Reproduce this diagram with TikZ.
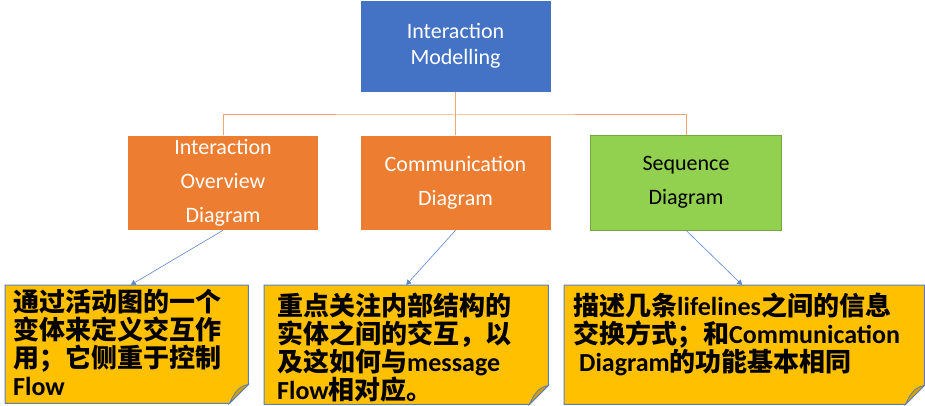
\documentclass[tikz,border=0pt]{standalone}
\usepackage{fontspec}
\setmainfont{Carlito}
\newfontfamily\cjk{Noto Sans CJK SC}
\newcommand\zh[1]{{\cjk #1}}
\usetikzlibrary{arrows.meta}
\definecolor{modelblue}{HTML}{4472C4}
\definecolor{kindorange}{HTML}{ED7D31}
\definecolor{kindgreen}{HTML}{92D050}
\definecolor{notefill}{HTML}{FFC000}
\definecolor{notefold}{HTML}{D4A000}
\definecolor{noteline}{HTML}{5E7FB6}
\definecolor{treeline}{HTML}{F4A46C}
\definecolor{linkline}{HTML}{5B86D0}
\tikzset
 {unit/.style =                       % the coloured boxes of the hierarchy
   {draw=white, line width=0.6pt, text=white, align=center,
    minimum width=191pt, minimum height=92pt, inner sep=0pt,
    font=\fontsize{22}{26}\selectfont},
  kind/.style = {minimum height=95pt, font=\fontsize{22}{34}\selectfont},
  tree/.style = {draw=treeline, line width=1pt},     % orange tree connectors
  link/.style =                        % thin blue arrows down to the notes
   {draw=linkline, line width=0.6pt, -{Triangle[width=5.5pt,length=5pt]}},
  note/.style = {inner sep=0pt, anchor=north west},  % outline drawn later
  notedge/.style = {draw=noteline, fill=notefill, line width=1pt},
  fold/.style = {draw=noteline, fill=notefold, line width=0.8pt},
  notetext/.style =
   {inner sep=0pt, anchor=north west, align=left,
    font=\bfseries\fontsize{26}{28}\selectfont}
 }
\begin{document}
\begin{tikzpicture}[x=1pt,y=-1pt]
    \useasboundingbox (0,0) rectangle (925,406);
    % hierarchy
    \node[unit, fill=modelblue] (model) at (455.5,46) {Interaction\\Modelling};
    \node[unit, kind, fill=kindorange] (overview) at (223,182.5) {Interaction\\Overview\\Diagram};
    \node[unit, kind, fill=kindorange] (communication) at (455.5,182.5) {Communication\\Diagram};
    \node[unit, kind, fill=kindgreen, draw=kindgreen!80!black, text=black] (sequence) at (686,182.5) {Sequence\\Diagram};
    \coordinate (fork) at (455.5,115);
    \draw[tree] (model.south) -- (communication.north);
    \draw[tree] (overview.north) |- (fork) -| (sequence.north);
    % notes
    \node[note, minimum width=243pt, minimum height=118pt] (notea) at (5,285) {};
    \node[note, minimum width=284pt, minimum height=119pt] (noteb) at (264,285) {};
    \node[note, minimum width=360pt, minimum height=119pt] (notec) at (564,285) {};
    \foreach \n in {notea,noteb,notec}
     {\draw[notedge] (\n.north west) -- (\n.north east) -- ([yshift=19pt]\n.south east)
        -- ([xshift=-19pt]\n.south east) -- (\n.south west) -- cycle;
      \draw[fold] ([yshift=19pt]\n.south east)
        .. controls ([xshift=-9pt,yshift=17pt]\n.south east) and ([xshift=-13pt,yshift=13pt]\n.south east)
        .. ([xshift=-19pt]\n.south east) -- cycle;
     }
    \node[notetext] (texta) at ([xshift=8pt,yshift=-4pt]notea.north west)
     {\zh{通过活动图的一个}\\\zh{变体来定义交互作}\\\zh{用；它侧重于控制}\\Flow};
    \node[notetext] (textb) at ([xshift=13pt,yshift=-8pt]noteb.north west)
     {\zh{重点关注内部结构的}\\\zh{实体之间的交互，以}\\\zh{及这如何与}message\\Flow\zh{相对应。}};
    \node[notetext] (textc) at ([xshift=9pt,yshift=-8pt]notec.north west)
     {\zh{描述几条}lifelines\zh{之间的信息}\\\zh{交换方式；和}Communication\\\hspace{6pt}Diagram\zh{的功能基本相同}};
    % arrows to the notes
    \draw[link] (overview.south) -- ([xshift=4pt]notea.north);
    \draw[link] (communication.south) -- (noteb.north);
    \draw[link] (sequence.south) -- ([xshift=-2pt]notec.north);
\end{tikzpicture}
\end{document}
